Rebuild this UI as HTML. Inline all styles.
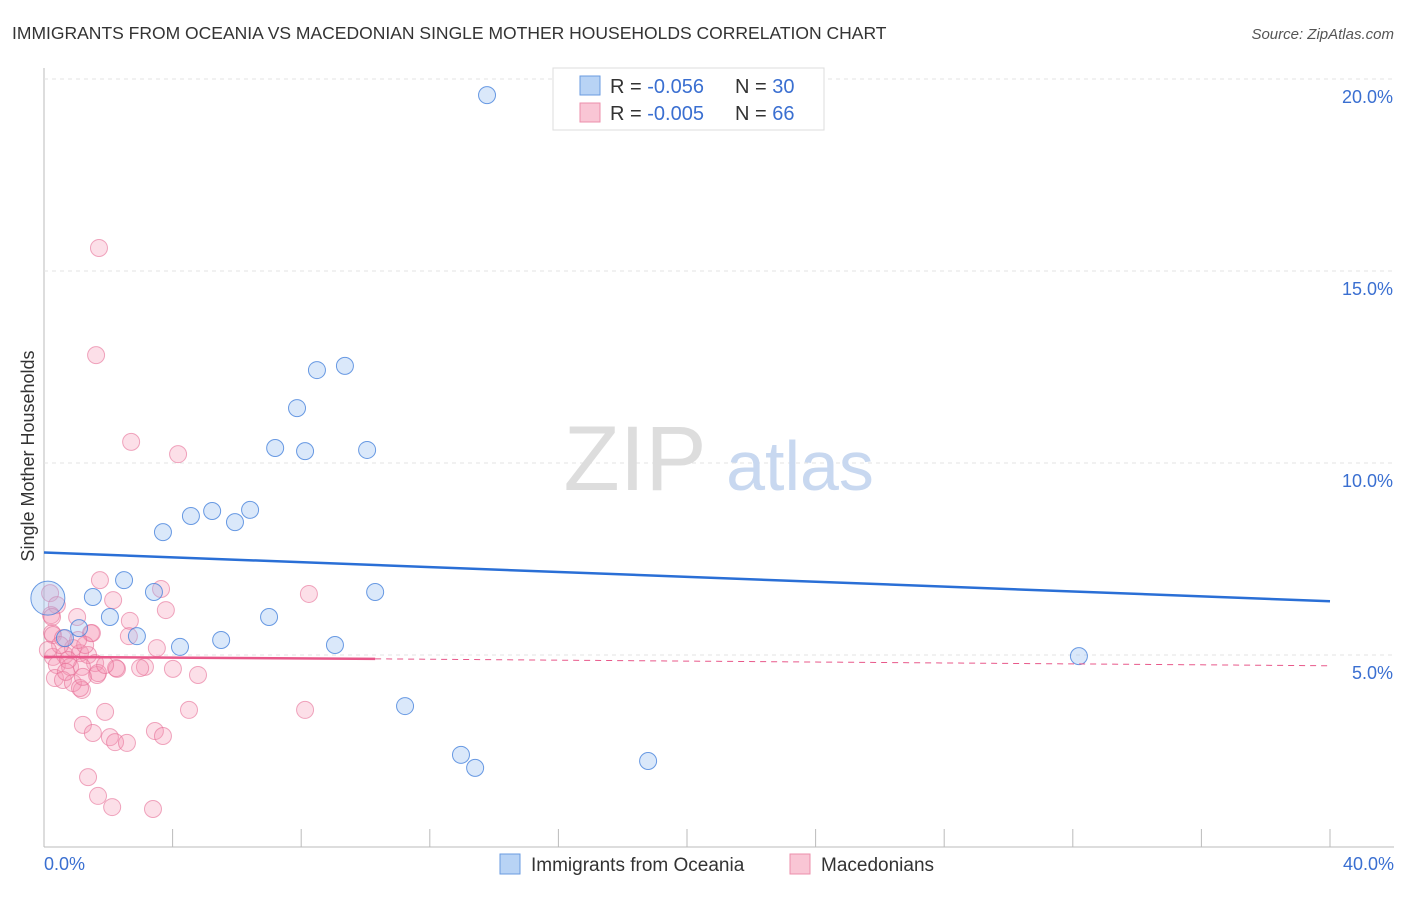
<!DOCTYPE html>
<html><head><meta charset="utf-8"><style>
body{margin:0;background:#fff;font-family:"Liberation Sans",sans-serif}
svg text{font-family:"Liberation Sans",sans-serif}
</style></head><body>
<svg width="1406" height="892">
<text x="12" y="39" font-size="17.5" fill="#333">IMMIGRANTS FROM OCEANIA VS MACEDONIAN SINGLE MOTHER HOUSEHOLDS CORRELATION CHART</text>
<text x="1394" y="39" font-size="15" fill="#555" text-anchor="end" font-style="italic">Source: ZipAtlas.com</text>
<g id="grid"></g>
<text x="635" y="490" font-size="92" fill="#ddd" font-family="Liberation Serif" text-anchor="middle">ZIP</text>
<text x="800" y="490" font-size="70" fill="#c8d8f0" text-anchor="middle">atlas</text>
<g id="pts"></g>
<g id="lines"></g>
<text transform="translate(34,456) rotate(-90)" font-size="18" fill="#333" text-anchor="middle">Single Mother Households</text>
<text x="44" y="870" font-size="18" fill="#3a6fd1">0.0%</text>
<text x="1394" y="870" font-size="18" fill="#3a6fd1" text-anchor="end">40.0%</text>
<g>
<rect x="553" y="68" width="271" height="62" fill="#fff" stroke="#ddd"/>
<rect x="580" y="76" width="20" height="19" fill="#b8d3f5" stroke="#6a9be0"/>
<rect x="580" y="103" width="20" height="19" fill="#f9c6d5" stroke="#ec8fab"/>
<text x="610" y="93" font-size="20" fill="#333">R = <tspan fill="#3a6fd1">-0.056</tspan></text>
<text x="735" y="93" font-size="20" fill="#333">N = <tspan fill="#3a6fd1">30</tspan></text>
<text x="610" y="120" font-size="20" fill="#333">R = <tspan fill="#3a6fd1">-0.005</tspan></text>
<text x="735" y="120" font-size="20" fill="#333">N = <tspan fill="#3a6fd1">66</tspan></text>
</g>
<g>
<rect x="500" y="854" width="20" height="20" fill="#b8d3f5" stroke="#6a9be0"/>
<text x="531" y="871" font-size="19" fill="#333">Immigrants from Oceania</text>
<rect x="790" y="854" width="20" height="20" fill="#f9c6d5" stroke="#ec8fab"/>
<text x="821" y="871" font-size="19" fill="#333">Macedonians</text>
</g>
</svg>
<script>
const yTicks=[5,10,15,20];
const xTicks=[0,4,8,12,16,20,24,28,32,36,40];
const blueX=[13.78,9.36,8.49,7.87,7.19,8.12,10.05,6.41,5.23,4.57,5.94,3.70,2.49,1.52,3.42,10.30,0.12,2.05,7.00,1.09,2.89,0.65,4.23,5.51,9.05,32.19,11.23,12.97,13.41,18.79];
const blueY=[19.58,12.53,12.42,11.43,10.39,10.31,10.34,8.78,8.75,8.62,8.46,8.20,6.95,6.51,6.64,6.64,6.48,5.99,5.99,5.70,5.49,5.44,5.21,5.39,5.26,4.97,3.67,2.40,2.06,2.24];
const pinkPx=[[99,248],[96,355],[131,442],[178,454],[100,580],[113,600],[161,589],[166,610],[77,617],[130,621],[91,633],[129,636],[157,648],[309,594],[117,669],[145,667],[173,669],[198,675],[97,675],[189,710],[305,710],[105,712],[83,725],[93,733],[110,737],[115,742],[127,743],[155,731],[163,736],[88,777],[98,796],[112,807],[153,809],[82,690],[50,593],[57,605],[51,615],[52,633],[52,617],[53,635],[63,638],[92,633],[53,657],[65,655],[73,648],[80,653],[88,655],[95,663],[57,665],[70,667],[82,667],[98,673],[116,668],[55,678],[63,680],[73,683],[80,688],[83,677],[140,668],[60,645],[68,660],[85,645],[48,650],[78,640],[105,665],[66,672]];
const pinkX=pinkPx.map(p=>+((p[0]-44)*0.031104).toFixed(2));
const pinkY=pinkPx.map(p=>+((847-p[1])/38.4).toFixed(2));
const X=v=>44+v/40*1286, Y=v=>847-v*38.4;
const NS='http://www.w3.org/2000/svg';
function mk(t,a,p){const e=document.createElementNS(NS,t);for(const k in a)e.setAttribute(k,a[k]);p.appendChild(e);return e;}
const g=document.getElementById('grid');
mk('line',{x1:44,y1:68,x2:44,y2:847,stroke:'#bbb'},g);
mk('line',{x1:44,y1:847,x2:1394,y2:847,stroke:'#bbb'},g);
yTicks.forEach(t=>{
 const l=mk('line',{x1:44,x2:1394,y1:Y(t),y2:Y(t),stroke:'#e3e3e3','stroke-dasharray':'4,4'},g);
 
 
 const tx=mk('text',{x:1393,y:Y(t)+24,'font-size':18,fill:'#3a6fd1','text-anchor':'end'},g);
 tx.textContent=t.toFixed(1)+'%';
 
 
});
xTicks.forEach(t=>{
 const l=mk('line',{x1:X(t),x2:X(t),y1:829,y2:847,stroke:'#bbb'},g);
 
 
});
const P=document.getElementById('pts');
pinkX.forEach((x,i)=>{
 const c=mk('circle',{cx:X(x),cy:Y(pinkY[i]),r:8.5,fill:'rgba(245,150,180,0.3)',stroke:'rgba(230,110,150,0.6)'},P);
 
 
});
blueX.forEach((x,i)=>{
 const c=mk('circle',{cx:X(x),cy:Y(blueY[i]),r:i==16?17:8.5,fill:'rgba(150,190,240,0.35)',stroke:'rgba(70,130,220,0.8)'},P);
 
 
});
const L=document.getElementById('lines');
const bl=mk('line',{x1:X(0),y1:Y(7.67),x2:X(40),y2:Y(6.4),stroke:'#2a6fd6','stroke-width':2.5},L);


const pl=mk('line',{x1:X(0),y1:Y(4.95),x2:X(10.3),y2:Y(4.9),stroke:'#e8588a','stroke-width':2.5},L);


const pd=mk('line',{x1:X(10.3),y1:Y(4.9),x2:X(40),y2:Y(4.72),stroke:'#e8588a','stroke-width':1,'stroke-dasharray':'6,5'},L);


</script>
</body></html>
